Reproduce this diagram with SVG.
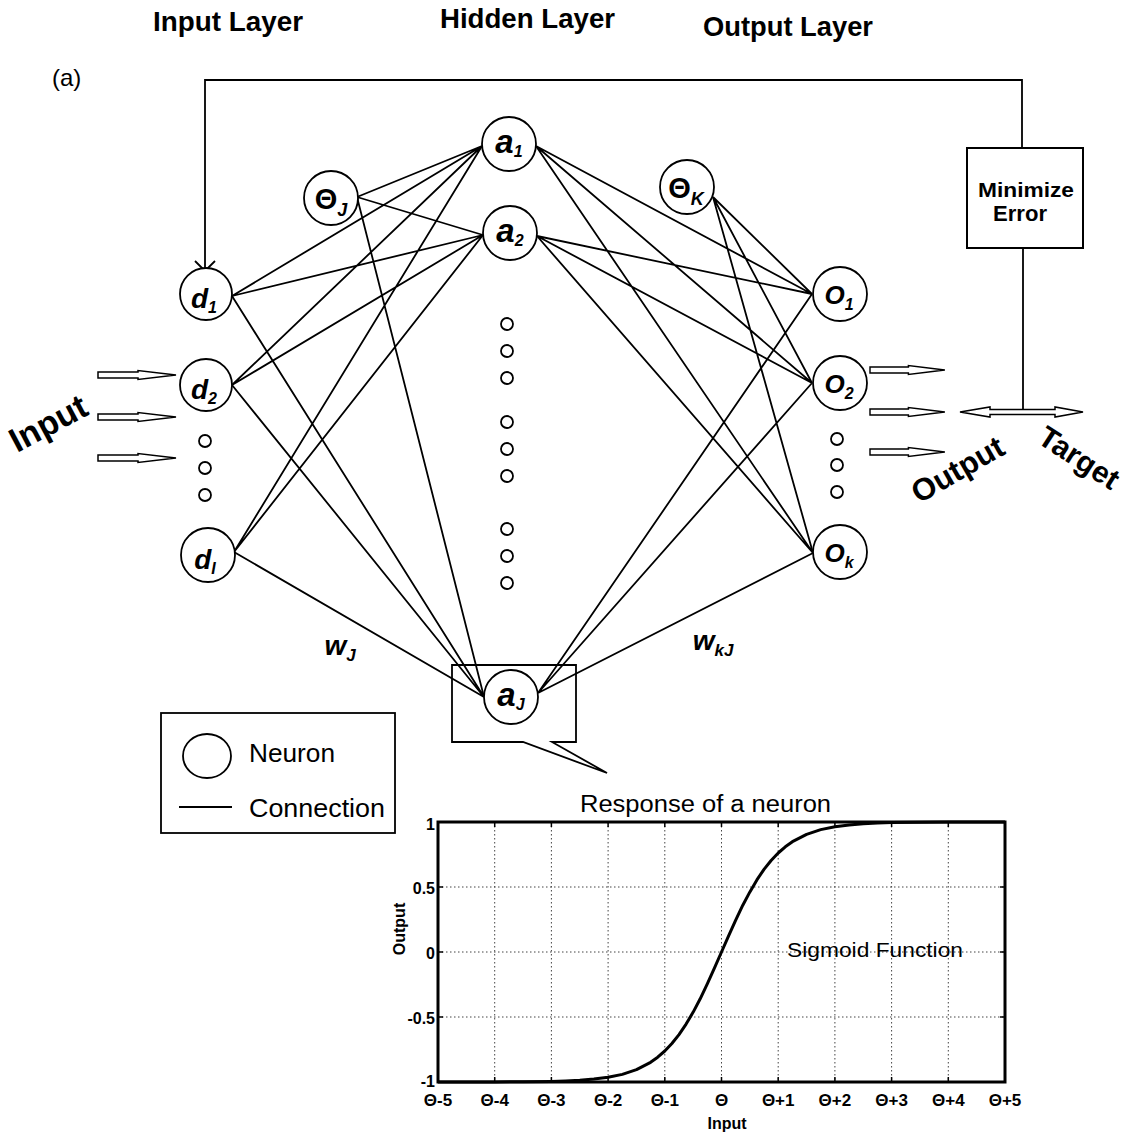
<svg xmlns="http://www.w3.org/2000/svg" width="1133" height="1134" viewBox="0 0 1133 1134">
  <style>
    .n { fill: #fff; stroke: #000; stroke-width: 1.8; }
    .dot { fill: #fff; stroke: #000; stroke-width: 1.8; }
    .c { fill: none; stroke: #000; stroke-width: 1.8; }
    .lbl { font-family: "Liberation Sans", Arial, sans-serif; font-weight: bold; font-style: italic; text-anchor: middle; }
    .ttl { font-family: "Liberation Sans", Arial, sans-serif; font-weight: bold; font-size: 28px; }
    .big { font-family: "Liberation Sans", Arial, sans-serif; font-weight: bold; }
    .reg { font-family: "Liberation Sans", Arial, sans-serif; }
    .harrow { fill: #fff; stroke: #000; stroke-width: 1.5; stroke-linejoin: miter; }
    .grid { stroke: #444; stroke-width: 1; stroke-dasharray: 1.5 2.5; fill: none; }
    .tick { font-family: "Liberation Sans", Arial, sans-serif; font-weight: bold; }
  </style>
  <defs>
    <!-- hollow input/output arrow, origin at tail centre -->
    <path id="harr" class="harrow" d="M0,-3 H40 V-4.5 L78,0 L40,4.5 V3 H0 Z"/>
  </defs>

  <rect width="1133" height="1134" fill="#fff"/>

  <!-- headings -->
  <text class="ttl" x="153" y="31" textLength="150" lengthAdjust="spacingAndGlyphs">Input Layer</text>
  <text class="ttl" x="440" y="28" textLength="175" lengthAdjust="spacingAndGlyphs">Hidden Layer</text>
  <text class="ttl" x="703" y="36" textLength="170" lengthAdjust="spacingAndGlyphs">Output Layer</text>
  <text class="reg" x="52" y="86" font-size="24">(a)</text>

  <!-- connections -->
  <g id="connectors">
    <path class="c" d="M232,296 L482,146 M232,296 L483,235 M232,296 L484,697
                       M232,385 L482,146 M232,385 L483,235 M232,385 L484,697
                       M234,552 L482,146 M234,552 L483,235 M234,552 L484,697
                       M357,197 L482,146 M357,197 L483,235 M357,197 L484,697"/>
    <path class="c" d="M536,146 L812,294 M536,146 L812,383 M536,146 L813,553
                       M537,236 L812,294 M537,236 L812,383 M537,236 L813,553
                       M538,693 L812,294 M538,693 L812,383 M538,693 L813,553
                       M713,197 L812,294 M713,197 L812,383 M713,197 L813,553"/>
    <!-- error feedback loop -->
    <path class="c" stroke-width="1.5" d="M1022,148 V80 H205 V271"/>
    <path class="c" stroke-width="1.5" d="M195,261 L205,271 L215,261"/>
    <path class="c" stroke-width="1.5" d="M1023,248 V410"/>
    <!-- output / target comparison arrow -->
    <path class="harrow" d="M960,412 L990,407 V409.5 H1055 V407 L1083,412 L1055,417 V414.5 H990 V417 Z"/>
    <!-- input arrows -->
    <use href="#harr" x="98" y="375"/>
    <use href="#harr" x="98" y="417"/>
    <use href="#harr" x="98" y="458"/>
    <!-- output arrows -->
    <use href="#harr" x="870" y="370" transform="translate(870 370) scale(0.96 1) translate(-870 -370)"/>
    <use href="#harr" x="870" y="412" transform="translate(870 412) scale(0.96 1) translate(-870 -412)"/>
    <use href="#harr" x="870" y="452" transform="translate(870 452) scale(0.96 1) translate(-870 -452)"/>
  </g>

  <!-- error block -->
  <g id="minimize">
    <rect x="967" y="148" width="116" height="100" fill="#fff" stroke="#000" stroke-width="2"/>
    <text class="big" x="978" y="197" font-size="21" textLength="96" lengthAdjust="spacingAndGlyphs">Minimize</text>
    <text class="big" x="993" y="221" font-size="22" textLength="54" lengthAdjust="spacingAndGlyphs">Error</text>
  </g>

  <!-- callout around a_J -->
  <path id="callout" fill="none" stroke="#000" stroke-width="1.8" d="M452,665 H576 V742 H552 L607,773 L523,742 H452 Z"/>

  <!-- input layer -->
  <g id="d1"><circle class="n" cx="206" cy="294" r="26"/><text class="lbl" x="204" y="308" style="font-size:28px">d<tspan dy="5" style="font-size:16px">1</tspan></text></g>
  <g id="d2"><circle class="n" cx="206" cy="385" r="26"/><text class="lbl" x="204" y="399" style="font-size:28px">d<tspan dy="5" style="font-size:16px">2</tspan></text></g>
  <g id="dI"><circle class="n" cx="208" cy="555" r="27"/><text class="lbl" x="205" y="569" style="font-size:28px">d<tspan dy="5" style="font-size:16px">I</tspan></text></g>
  <g id="in-dots">
    <circle class="dot" cx="205" cy="441" r="6"/>
    <circle class="dot" cx="205" cy="468" r="6"/>
    <circle class="dot" cx="205" cy="495" r="6"/>
  </g>
  <g id="thetaJ"><circle class="n" cx="331" cy="198" r="27"/><text class="lbl" x="331" y="209" style="font-size:29px;font-style:normal">Θ<tspan dy="7" style="font-size:18px;font-style:italic">J</tspan></text></g>

  <!-- hidden layer -->
  <g id="a1"><circle class="n" cx="509" cy="144" r="27"/><text class="lbl" x="509" y="153" style="font-size:33px">a<tspan dy="4" style="font-size:16px">1</tspan></text></g>
  <g id="a2"><circle class="n" cx="510" cy="233" r="27"/><text class="lbl" x="510" y="242" style="font-size:33px">a<tspan dy="4" style="font-size:16px">2</tspan></text></g>
  <g id="aJ"><circle class="n" cx="511" cy="697" r="27"/><text class="lbl" x="511" y="706" style="font-size:33px">a<tspan dy="4" style="font-size:16px">J</tspan></text></g>
  <g id="hid-dots">
    <circle class="dot" cx="507" cy="324" r="6"/>
    <circle class="dot" cx="507" cy="351" r="6"/>
    <circle class="dot" cx="507" cy="378" r="6"/>
    <circle class="dot" cx="507" cy="422" r="6"/>
    <circle class="dot" cx="507" cy="449" r="6"/>
    <circle class="dot" cx="507" cy="476" r="6"/>
    <circle class="dot" cx="507" cy="529" r="6"/>
    <circle class="dot" cx="507" cy="556" r="6"/>
    <circle class="dot" cx="507" cy="583" r="6"/>
  </g>
  <g id="thetaK"><circle class="n" cx="687" cy="187" r="27"/><text class="lbl" x="686" y="198" style="font-size:29px;font-style:normal">Θ<tspan dy="7" style="font-size:18px;font-style:italic">K</tspan></text></g>

  <!-- output layer -->
  <g id="o1"><circle class="n" cx="840" cy="294" r="27"/><text class="lbl" x="839" y="304" style="font-size:26px">O<tspan dy="6" style="font-size:16px">1</tspan></text></g>
  <g id="o2"><circle class="n" cx="840" cy="383" r="27"/><text class="lbl" x="839" y="393" style="font-size:26px">O<tspan dy="6" style="font-size:16px">2</tspan></text></g>
  <g id="ok"><circle class="n" cx="840" cy="552" r="27"/><text class="lbl" x="839" y="562" style="font-size:26px">O<tspan dy="6" style="font-size:16px">k</tspan></text></g>
  <g id="out-dots">
    <circle class="dot" cx="837" cy="439" r="6"/>
    <circle class="dot" cx="837" cy="465" r="6"/>
    <circle class="dot" cx="837" cy="492" r="6"/>
  </g>

  <!-- weight labels -->
  <text class="lbl" x="340" y="655" style="font-size:28px">w<tspan dy="6" style="font-size:17px">J</tspan></text>
  <text class="lbl" x="713" y="650" style="font-size:28px">w<tspan dy="6" style="font-size:17px">kJ</tspan></text>

  <!-- side labels -->
  <text class="big" font-size="34" transform="translate(17 453) rotate(-28)">Input</text>
  <text class="big" font-size="31" transform="translate(919 504) rotate(-30)">Output</text>
  <text class="big" font-size="30" transform="translate(1036 442) rotate(33)">Target</text>

  <!-- legend -->
  <g id="legend">
    <rect x="161" y="713" width="234" height="120" fill="none" stroke="#000" stroke-width="1.8"/>
    <ellipse cx="207" cy="756" rx="24" ry="22" fill="none" stroke="#000" stroke-width="1.8"/>
    <text class="reg" x="249" y="762" font-size="25" textLength="86" lengthAdjust="spacingAndGlyphs">Neuron</text>
    <line x1="179" y1="807" x2="232" y2="807" stroke="#000" stroke-width="1.8"/>
    <text class="reg" x="249" y="817" font-size="25" textLength="136" lengthAdjust="spacingAndGlyphs">Connection</text>
  </g>

  <!-- sigmoid response chart -->
  <g id="chart">
    <text class="reg" x="580" y="812" font-size="23" textLength="251" lengthAdjust="spacingAndGlyphs">Response of a neuron</text>
    <g class="grid">
      <path d="M494.7,822 V1082 M551.4,822 V1082 M608.1,822 V1082 M664.8,822 V1082 M721.5,822 V1082 M778.2,822 V1082 M834.9,822 V1082 M891.6,822 V1082 M948.3,822 V1082"/>
      <path d="M438,887 H1005 M438,952 H1005 M438,1017 H1005"/>
    </g>
    <path fill="none" stroke="#000" stroke-width="1.5" d="M494.7,1082 v-5 M551.4,1082 v-5 M608.1,1082 v-5 M664.8,1082 v-5 M721.5,1082 v-5 M778.2,1082 v-5 M834.9,1082 v-5 M891.6,1082 v-5 M948.3,1082 v-5
      M494.7,822 v5 M551.4,822 v5 M608.1,822 v5 M664.8,822 v5 M721.5,822 v5 M778.2,822 v5 M834.9,822 v5 M891.6,822 v5 M948.3,822 v5
      M438,887 h5 M438,952 h5 M438,1017 h5 M1005,887 h-5 M1005,952 h-5 M1005,1017 h-5"/>
    <rect x="438" y="822" width="567" height="260" fill="none" stroke="#000" stroke-width="3"/>
    <text class="reg" x="875" y="957" font-size="21" text-anchor="middle" textLength="176" lengthAdjust="spacingAndGlyphs">Sigmoid Function</text>
    <polyline fill="none" stroke="#000" stroke-width="3" stroke-linejoin="round"
      points="438,1082 494.7,1081.9 523,1081.8 551.4,1081.4 565.6,1081 579.8,1080.3 593.9,1079.1 608.1,1077.3 622.3,1074.4 636.5,1069.7 650.6,1062.3 657.7,1057.2 664.8,1051 671.9,1043.5 679,1034.6 686.1,1024.1 693.2,1012.1 700.2,998.8 707.3,983.8 714.4,968.2 721.5,952 728.6,935.8 735.7,920.2 742.8,905.2 749.9,891.9 756.9,879.9 764,869.4 771.1,860.5 778.2,853 785.3,846.8 792.4,841.7 806.6,834.3 820.7,829.6 834.9,826.7 849.1,824.9 863.3,823.7 877.4,823 891.6,822.6 920,822.2 948.3,822.1 1005,822"/>
    <g class="tick" text-anchor="end" font-size="16">
      <text x="435" y="830">1</text>
      <text x="435" y="894">0.5</text>
      <text x="435" y="959">0</text>
      <text x="435" y="1024">-0.5</text>
      <text x="435" y="1087">-1</text>
    </g>
    <g class="tick" text-anchor="middle" font-size="17">
      <text x="438" y="1106">Θ-5</text>
      <text x="494.7" y="1106">Θ-4</text>
      <text x="551.4" y="1106">Θ-3</text>
      <text x="608.1" y="1106">Θ-2</text>
      <text x="664.8" y="1106">Θ-1</text>
      <text x="721.5" y="1106">Θ</text>
      <text x="778.2" y="1106">Θ+1</text>
      <text x="834.9" y="1106">Θ+2</text>
      <text x="891.6" y="1106">Θ+3</text>
      <text x="948.3" y="1106">Θ+4</text>
      <text x="1005" y="1106">Θ+5</text>
    </g>
    <text class="tick" x="727" y="1129" font-size="16" text-anchor="middle">Input</text>
    <text class="tick" font-size="16" text-anchor="middle" transform="translate(405 929) rotate(-90)">Output</text>
  </g>
</svg>
